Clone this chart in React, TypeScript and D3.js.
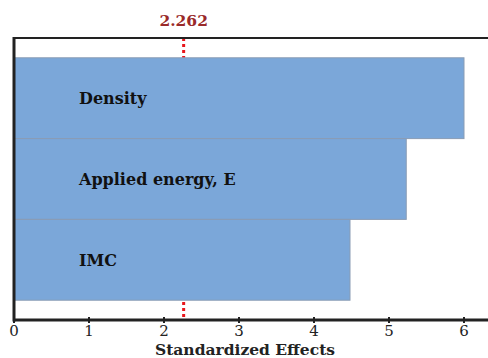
import React from "react";
import * as d3 from "d3";

const factors = ["Density", "Applied energy, E", "IMC"];
const effects = [6.0, 5.23, 4.48];
const xTicks = [0, 1, 2, 3, 4, 5, 6];
const critical = 2.262;

const W = 488;
const H = 358;
const margin = { top: 38, right: 0, bottom: 38, left: 14 };
const font = "'DejaVu Serif', 'Liberation Serif', serif";

export default function App() {
  const innerBottom = H - margin.bottom;
  const x = d3.scaleLinear().domain([0, 6.32]).range([margin.left, W - margin.right]);
  const y = d3
    .scaleBand<string>()
    .domain(factors)
    .range([margin.top, innerBottom])
    .paddingInner(0)
    .paddingOuter(0.245);

  return (
    <svg
      width={W}
      height={H}
      style={{ position: "absolute", left: 0, top: 0, background: "#fff" }}
      fontFamily={font}
    >
      {/* critical value line */}
      <line
        x1={x(critical)}
        x2={x(critical)}
        y1={margin.top}
        y2={innerBottom}
        stroke="#e8161b"
        strokeWidth={3}
        strokeDasharray="3,3"
      />
      <text
        x={x(critical)}
        y={26}
        textAnchor="middle"
        fontSize={15.5}
        fontWeight="bold"
        fill="#9a2a2a"
      >
        {critical.toFixed(3)}
      </text>

      {/* bars */}
      {factors.map((f, i) => (
        <g key={f}>
          <rect
            x={x(0)}
            y={y(f)!}
            width={x(effects[i]) - x(0)}
            height={y.bandwidth()}
            fill="#7ba7d9"
            stroke="#8a9cb4"
            strokeWidth={1}
          />
          <text
            x={x(0) + 65}
            y={y(f)! + y.bandwidth() / 2 + 6}
            fontSize={16}
            fontWeight="bold"
            fill="#111"
          >
            {f}
          </text>
        </g>
      ))}

      {/* frame */}
      <line x1={margin.left} x2={W} y1={margin.top} y2={margin.top} stroke="#222" strokeWidth={2} />
      <line x1={margin.left} x2={W} y1={innerBottom} y2={innerBottom} stroke="#222" strokeWidth={3} />
      <line x1={margin.left} x2={margin.left} y1={margin.top - 1} y2={innerBottom + 1.5} stroke="#222" strokeWidth={3} />

      {/* x ticks */}
      {xTicks.map((t) => (
        <g key={t}>
          <line x1={x(t)} x2={x(t)} y1={innerBottom - 3} y2={innerBottom + 3} stroke="#222" strokeWidth={2} />
          <text x={x(t)} y={innerBottom + 16} textAnchor="middle" fontSize={15} fill="#222">
            {t}
          </text>
        </g>
      ))}
      <text x={245} y={355} textAnchor="middle" fontSize={15.5} fontWeight="bold" fill="#222">
        Standardized Effects
      </text>
    </svg>
  );
}
